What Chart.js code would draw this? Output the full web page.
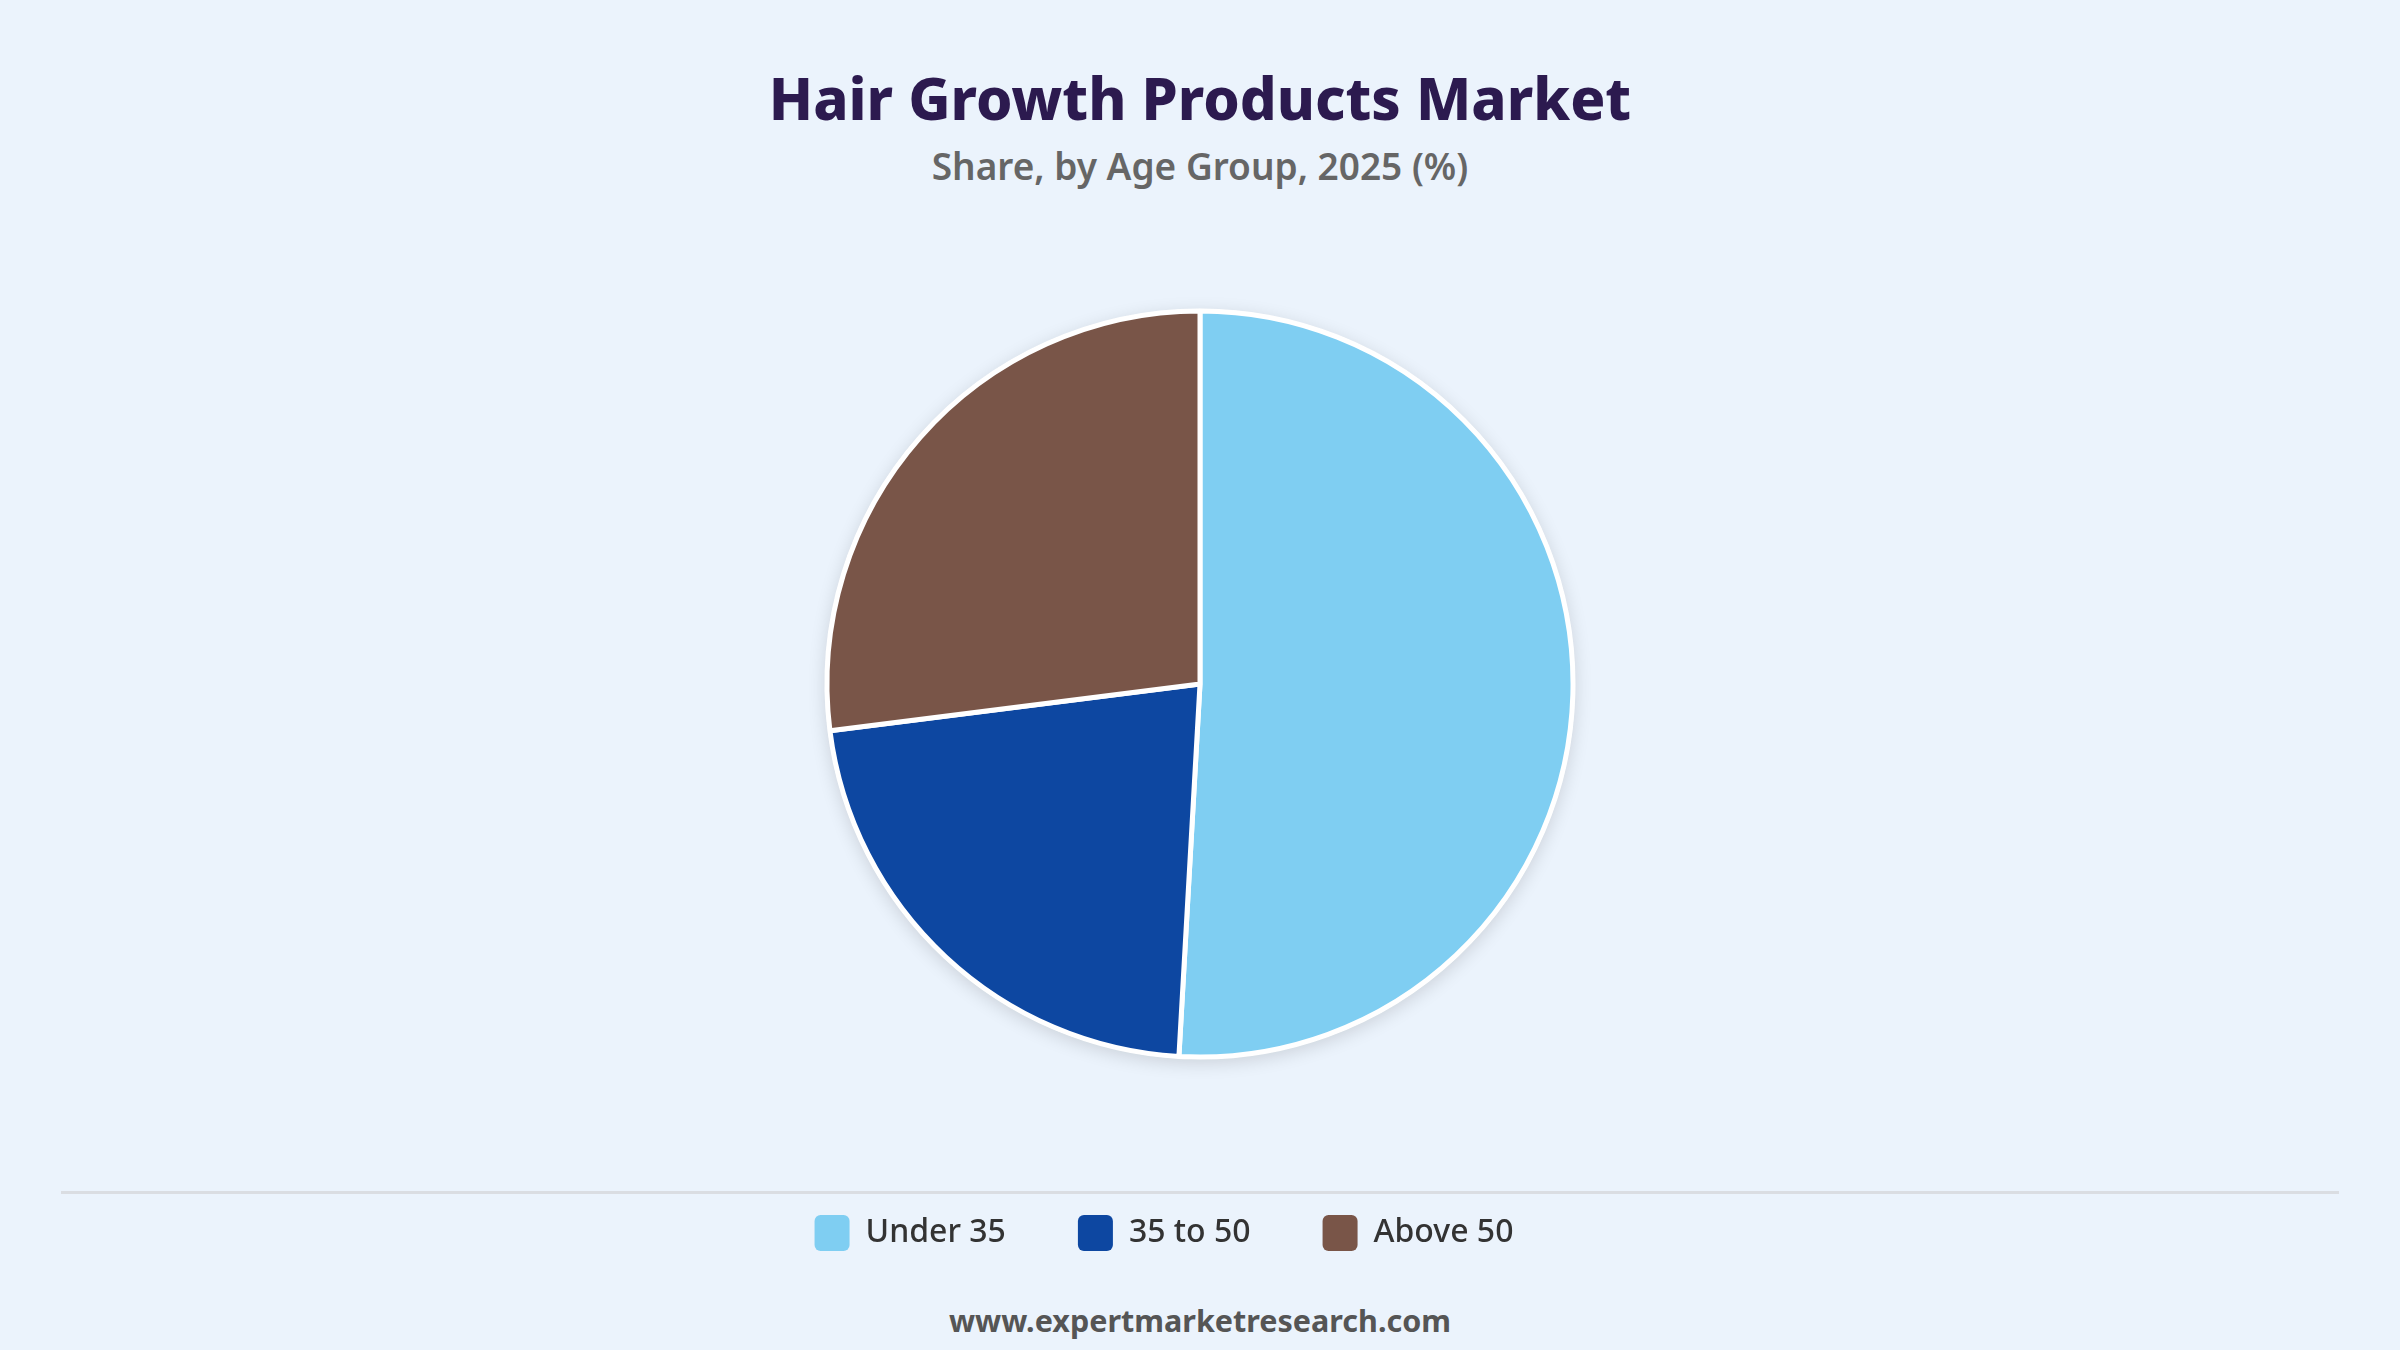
<!DOCTYPE html>
<html lang="en">

<head>
    <meta charset="UTF-8">
    <title>Hair Growth Products Market</title>
    <script src="https://cdn.jsdelivr.net/npm/chart.js"></script>
    <style>
        body {
            margin: 0;
            width: 2400px;
            height: 1350px;
            background: #ebf3fc;
            font-family: "Noto Sans", "Open Sans", sans-serif;
            position: relative;
            overflow: hidden;
        }

        .title {
            position: absolute;
            top: 58px;
            width: 100%;
            text-align: center;
            font-size: 58px;
            font-weight: 800;
            color: #2c1a4f;
            line-height: 80px;
        }

        .subtitle {
            position: absolute;
            top: 141px;
            width: 100%;
            text-align: center;
            font-size: 37px;
            font-weight: 600;
            color: #666666;
            line-height: 50px;
        }

        .rule {
            position: absolute;
            left: 61px;
            right: 61px;
            top: 1191px;
            height: 3px;
            background: #dadde2;
        }

        .footer {
            position: absolute;
            top: 1300px;
            width: 100%;
            text-align: center;
            font-size: 30.5px;
            font-weight: 700;
            color: #555555;
            line-height: 40px;
        }

        .chart-container {
            position: absolute;
            left: 0;
            top: 0;
            width: 2400px;
            height: 1350px;
        }
    </style>
</head>

<body>
    <div class="title">Hair Growth Products Market</div>
    <div class="subtitle">Share, by Age Group, 2025 (%)</div>
    <div class="rule"></div>
    <div class="footer">www.expertmarketresearch.com</div>

    <div class="chart-container">
        <canvas id="shareChart"></canvas>
    </div>

    <script>
        const labels = ['Under 35', '35 to 50', 'Above 50'];
        const shares = [50.9, 22.1, 27.0];
        const colors = ['#7fcef2', '#0d47a1', '#795548'];

        // soft shadow behind the whole pie
        const pieShadow = {
            id: 'pieShadow',
            beforeDatasetsDraw(chart) {
                const arc = chart.getDatasetMeta(0).data[0];
                if (!arc) return;
                const c = chart.ctx;
                c.save();
                c.shadowColor = 'rgba(0, 0, 0, 0.14)';
                c.shadowBlur = 18;
                c.shadowOffsetY = 4;
                c.fillStyle = '#ffffff';
                c.beginPath();
                c.arc(arc.x, arc.y, arc.outerRadius + 2, 0, Math.PI * 2);
                c.fill();
                c.restore();
            }
        };

        // the legend row sits a little left of centre in the original
        const legendNudge = {
            id: 'legendNudge',
            afterLayout(chart) {
                chart.legend.left -= 36;
                chart.legend.right -= 36;
            }
        };

        const ctx = document.getElementById('shareChart').getContext('2d');
        const shareChart = new Chart(ctx, {
            type: 'pie',
            data: {
                labels: labels,
                datasets: [{
                    data: shares,
                    backgroundColor: colors,
                    borderColor: '#ffffff',
                    borderWidth: 5
                }]
            },
            options: {
                responsive: true,
                maintainAspectRatio: false,
                devicePixelRatio: 1,
                animation: false,
                radius: 373,
                layout: {
                    padding: { top: 225, bottom: 89 }
                },
                plugins: {
                    title: { display: false },
                    tooltip: { enabled: false },
                    legend: {
                        position: 'bottom',
                        labels: {
                            boxWidth: 35,
                            boxHeight: 36,
                            padding: 72,
                            color: '#333333',
                            useBorderRadius: true,
                            borderRadius: 6,
                            font: { family: '"Noto Sans", sans-serif', size: 32, weight: '500' },
                            generateLabels(chart) {
                                const items = Chart.controllers.pie.overrides.plugins.legend.labels.generateLabels(chart);
                                return items.map(it => Object.assign(it, { lineWidth: 0, strokeStyle: 'rgba(0,0,0,0)' }));
                            }
                        }
                    }
                }
            },
            plugins: [pieShadow, legendNudge]
        });
    </script>
</body>

</html>
